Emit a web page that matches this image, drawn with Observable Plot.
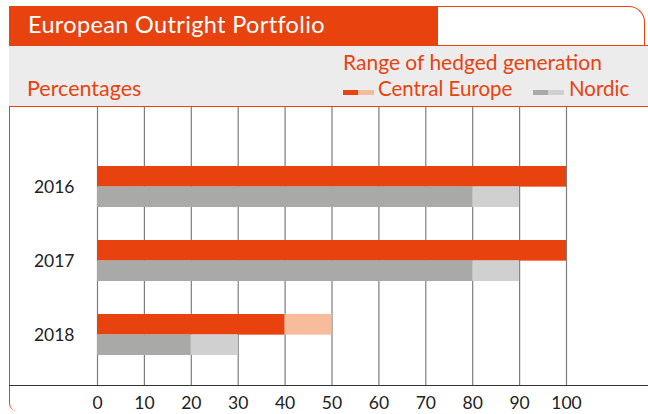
<!DOCTYPE html>
<html>
<head>
<meta charset="utf-8">
<script src="https://cdn.jsdelivr.net/npm/d3@7"></script>
<script src="https://cdn.jsdelivr.net/npm/@observablehq/plot@0.6"></script>
<style>
  html, body { margin: 0; padding: 0; background: #fff; }
  #wrap { position: relative; width: 648px; height: 414px; overflow: hidden; font-family: Lato, "Open Sans", sans-serif; background: #fff; }
  .abs { position: absolute; box-sizing: border-box; }
  #leftb { left: 9px; top: 6px; width: 20px; height: 405px; border-left: 1.5px solid #e8430f; border-bottom-left-radius: 8px; }
  #titlebar { left: 9px; top: 6px; width: 429px; height: 40px; background: #e8430f; }
  #title { left: 28px; top: 10.1px; color: #fff; font-size: 23.5px; letter-spacing: 0.35px; white-space: nowrap; }
  #topright { left: 438px; top: 6px; width: 207px; height: 40px; border-top: 1.5px solid #e8430f; border-right: 1.5px solid #e8430f; border-top-right-radius: 16px; }
  #band { left: 9px; top: 45px; width: 639px; height: 62px; background: #ececec; border-top: 1.5px solid #e8430f; border-bottom: 1.5px solid #e8430f; }
  .otxt { color: #e8430f; white-space: nowrap; }
  #plotbox { left: 0; top: 106px; }
  #axisline { left: 9px; top: 385px; width: 639px; height: 0; border-top: 1.2px solid #333; }
  .sw { height: 5px; }
</style>
</head>
<body>
<div id="wrap">
  <div id="plotbox" class="abs"></div>
  <div id="leftb" class="abs"></div>
  <div id="topright" class="abs"></div>
  <div id="band" class="abs"></div>
  <div id="titlebar" class="abs"></div>
  <div id="title" class="abs">European Outright Portfolio</div>
  <div class="abs otxt" style="left:343px; top:49.3px; font-size:21px;">Range of hedged generation</div>
  <div class="abs otxt" style="left:27px; top:74.8px; font-size:21.5px;">Percentages</div>
  <div class="abs sw" style="left:343px; top:90px; width:15px; background:#e8430f;"></div>
  <div class="abs sw" style="left:358px; top:90px; width:16px; background:#f7bc9b;"></div>
  <div class="abs otxt" style="left:378px; top:75.8px; font-size:20.5px;">Central Europe</div>
  <div class="abs sw" style="left:533px; top:90px; width:15px; background:#a9a9a7;"></div>
  <div class="abs sw" style="left:548px; top:90px; width:16px; background:#d0d0d0;"></div>
  <div class="abs otxt" style="left:569px; top:75.8px; font-size:20.5px;">Nordic</div>
  <div id="axisline" class="abs"></div>
</div>
<script>
const years = ["2016", "2017", "2018"];
const centralLow = [100, 100, 40];
const centralHigh = [100, 100, 50];
const nordicLow = [80, 80, 20];
const nordicHigh = [90, 90, 30];
const xTicks = [0, 10, 20, 30, 40, 50, 60, 70, 80, 90, 100];

const rows = years.map((year, i) => ({
  year,
  centralLow: centralLow[i],
  centralHigh: centralHigh[i],
  nordicLow: nordicLow[i],
  nordicHigh: nordicHigh[i]
}));

const half = 20.35;

const chart = Plot.plot({
  width: 648,
  height: 308,
  marginTop: 0,
  marginBottom: 28,
  marginLeft: 97,
  marginRight: 82,
  style: { fontFamily: "Lato, 'Open Sans', sans-serif", fontSize: "17.5px", color: "#222", background: "transparent", overflow: "visible" },
  x: { domain: [0, 100], ticks: xTicks, label: null, tickSize: 0, tickPadding: 10 },
  y: { domain: years, range: [28, 280], paddingInner: 0.45, paddingOuter: 0.4275, label: null, tickSize: 0, tickPadding: 23 },
  marks: [
    Plot.ruleX(xTicks, { stroke: "#7d7d7d", strokeWidth: 1.2 }),
    Plot.barX(rows, { y: "year", x: "centralLow", fill: "#e8430f", insetBottom: half }),
    Plot.barX(rows, { y: "year", x1: "centralLow", x2: "centralHigh", fill: "#f7bc9b", insetBottom: half }),
    Plot.barX(rows, { y: "year", x: "nordicLow", fill: "#a9a9a7", insetTop: half }),
    Plot.barX(rows, { y: "year", x1: "nordicLow", x2: "nordicHigh", fill: "#d0d0d0", insetTop: half })
  ]
});
document.getElementById("plotbox").appendChild(chart);
</script>
</body>
</html>
